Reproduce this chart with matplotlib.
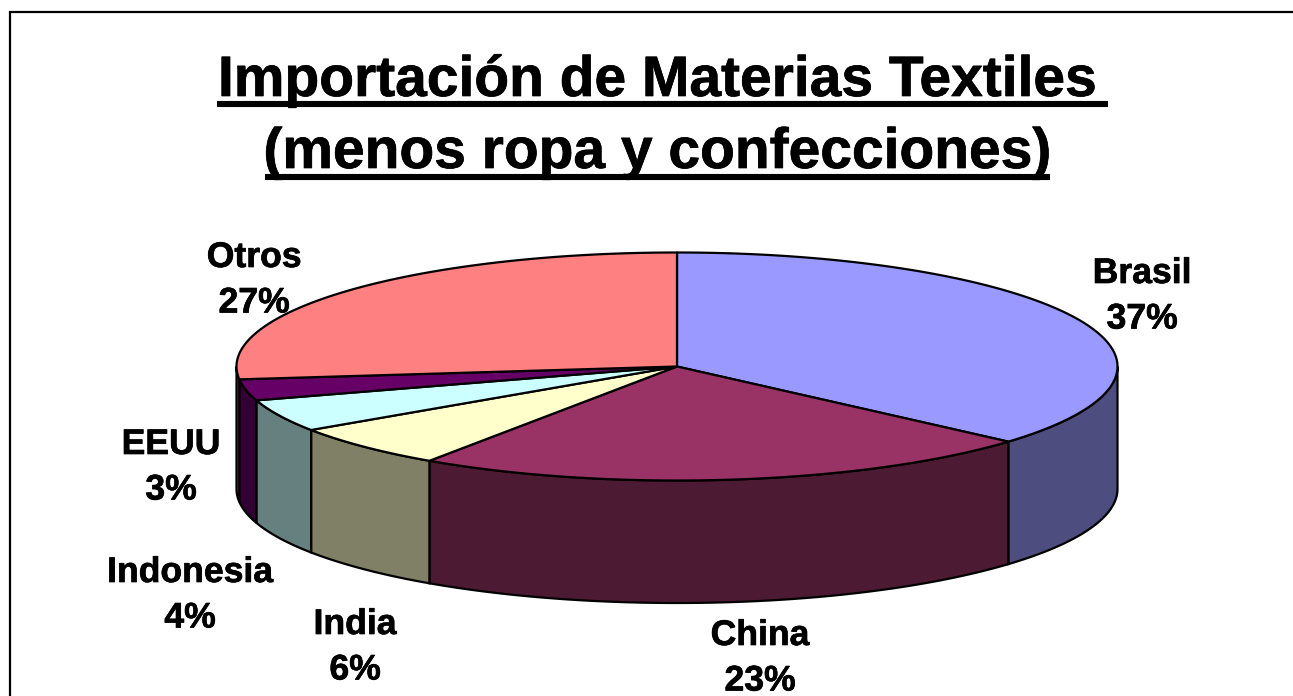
import numpy as np
import matplotlib
matplotlib.use('Agg')
import matplotlib.pyplot as plt
import matplotlib.patheffects as pe
from matplotlib.patches import Polygon

plt.rcParams['font.family'] = ['Liberation Sans', 'DejaVu Sans']

title_lines = ['Importación de Materias Textiles', '(menos ropa y confecciones)']
countries = ['Brasil', 'China', 'India', 'Indonesia', 'EEUU', 'Otros']
shares = [36.45, 23.05, 6.1, 4.6, 3.0, 26.8]
share_labels = ['37%', '23%', '6%', '4%', '3%', '27%']
top_colors = ['#9999FF', '#993366', '#FFFFCC', '#CCFFFF', '#660066', '#FF8080']
side_colors = ['#4D4D80', '#4D1A33', '#808066', '#668080', '#330033', '#804040']
# label centres in pixels (x, y of the first line)
label_pos = [(1142, 273.5), (760, 635.5), (355, 624.5), (190, 572.5), (171, 444.5), (254, 257.5)]

# pie geometry in pixels
cx, cy = 677, 366.5
rx, ry = 440.5, 114
depth = 122.5
edge_w = 1.6
bold = [pe.withStroke(linewidth=0.5, foreground='black')]


def arc(a0, a1, dy=0):
    # angles clockwise from the top of the pie, in degrees
    t = np.radians(np.linspace(a0, a1, max(int(abs(a1 - a0) * 3), 2)))
    return np.column_stack([cx + rx * np.sin(t), cy - ry * np.cos(t) + dy])


fig = plt.figure(figsize=(12.93, 6.96), dpi=100)
ax = fig.add_axes([0, 0, 1, 1])
ax.set_xlim(0, 1293)
ax.set_ylim(696, 0)
ax.axis('off')

# chart frame, cut off by the right and bottom of the picture
ax.plot([10, 10, 1293], [696, 12, 12], color='black', lw=1.6, solid_joinstyle='miter')

# title with underlines
for text, base, line_y, x0, x1 in zip(title_lines, [96, 168], [104, 176.5], [217, 265], [1108, 1050]):
    ax.text(658, base, text, fontsize=41, fontweight='bold', ha='center', va='baseline', path_effects=bold)
    ax.plot([x0, x1], [line_y, line_y], color='black', lw=4.4, solid_capstyle='butt')

edges = np.concatenate([[0], np.cumsum(shares)]) / sum(shares) * 360

# sides: only the part of each slice facing front
for a0, a1, col in zip(edges[:-1], edges[1:], side_colors):
    lo, hi = max(a0, 90), min(a1, 270)
    if hi <= lo:
        continue
    pts = np.vstack([arc(lo, hi), arc(hi, lo, depth)])
    ax.add_patch(Polygon(pts, closed=True, facecolor=col, edgecolor='black', lw=edge_w, zorder=2))

# tops
for a0, a1, col in zip(edges[:-1], edges[1:], top_colors):
    pts = np.vstack([[cx, cy], arc(a0, a1)])
    ax.add_patch(Polygon(pts, closed=True, facecolor=col, edgecolor='black', lw=edge_w,
                         joinstyle='round', zorder=3))

for name, pct, (x, y) in zip(countries, share_labels, label_pos):
    ax.text(x, y, name, fontsize=25.6, fontweight='bold', ha='center', va='center', zorder=5, path_effects=bold)
    ax.text(x, y + 45.5, pct, fontsize=25.6, fontweight='bold', ha='center', va='center', zorder=5, path_effects=bold)

fig.savefig('out.png', dpi=100, facecolor='white')
